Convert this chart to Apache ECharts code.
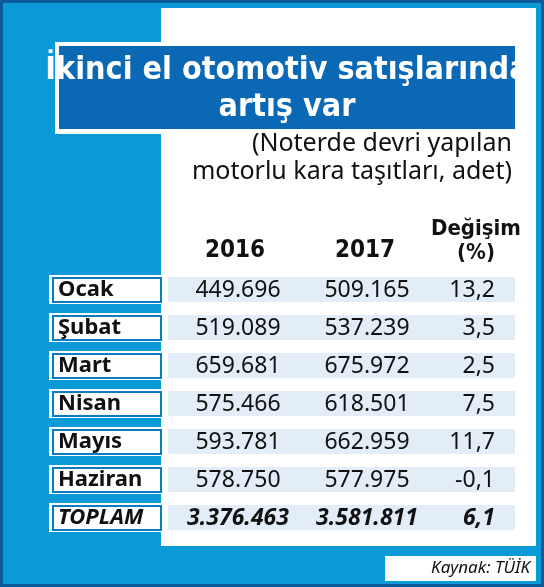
<!DOCTYPE html>
<html><head><meta charset="utf-8">
<script src="https://cdn.jsdelivr.net/npm/echarts@6/dist/echarts.min.js"></script>
<style>html,body{margin:0;padding:0;background:#fff}#c{width:544px;height:587px}</style>
</head><body><div id="c"></div>
<script>
const months = ['Ocak','Şubat','Mart','Nisan','Mayıs','Haziran','TOPLAM'];
const values2016 = ['449.696','519.089','659.681','575.466','593.781','578.750','3.376.463'];
const values2017 = ['509.165','537.239','675.972','618.501','662.959','577.975','3.581.811'];
const changes = ['13,2','3,5','2,5','7,5','11,7','-0,1','6,1'];
const headers = ['2016','2017','Değişim\n(%)'];
const NARROW='"Liberation Sans Narrow","DejaVu Sans Condensed",sans-serif';

const chart = echarts.init(document.getElementById('c'));
const rows = months.map((m,i)=>[i]);
chart.setOption({
  animation:false,
  grid:{left:0,right:0,top:270,height:266},
  xAxis:{type:'value',min:0,max:544,show:false},
  yAxis:{type:'category',inverse:true,data:months,show:false},
  graphic:[
    {type:'rect',z:-10,shape:{x:1.5,y:1.5,width:541,height:584},style:{fill:'#0a9ad8',stroke:'#0b5a9c',lineWidth:3}},
    {type:'rect',z:-9,shape:{x:161,y:8,width:375,height:538},style:{fill:'#ffffff'}},
    {type:'rect',z:-9,shape:{x:385,y:556,width:151,height:25},style:{fill:'#ffffff'}},
    {type:'text',z:5,style:{x:530,y:568,text:'Kaynak: TÜİK',fill:'#111',font:'italic 17px "Noto Sans"',align:'right',verticalAlign:'middle'}},
    {type:'rect',z:-8,shape:{x:55,y:42,width:461,height:92},style:{fill:'#ffffff'}},
    {type:'rect',z:-7,shape:{x:59,y:46,width:456,height:83},style:{fill:'#0a68b4'}},
    {type:'text',z:5,style:{x:287,y:89,text:'İkinci el otomotiv satışlarında\nartış var',fill:'#fff',font:'bold 32px '+NARROW,align:'center',verticalAlign:'middle',lineHeight:37}},
    {type:'text',z:5,style:{x:512,y:158,text:'(Noterde devri yapılan\nmotorlu kara taşıtları, adet)',fill:'#111',font:'25px "Noto Sans"',align:'right',verticalAlign:'middle',lineHeight:28}},
    {type:'text',z:5,style:{x:235,y:251,text:headers[0],fill:'#111',font:'bold 24px '+NARROW,align:'center',verticalAlign:'middle'}},
    {type:'text',z:5,style:{x:365,y:251,text:headers[1],fill:'#111',font:'bold 24px '+NARROW,align:'center',verticalAlign:'middle'}},
    {type:'text',z:5,style:{x:476,y:241,text:headers[2],fill:'#111',font:'bold 22px '+NARROW,align:'center',verticalAlign:'middle',lineHeight:24}}
  ],
  series:[{
    type:'custom',data:rows,
    renderItem:function(params,api){
      const i=api.value(0);
      const c=api.coord([0,i]); const cy=c[1];
      const x=v=>api.coord([v,i])[0];
      const bold=i===6; const it=i===6?'italic ':'';
      return {type:'group',children:[
        {type:'rect',shape:{x:x(49),y:cy-14,width:113,height:29},style:{fill:'#fff'}},
        {type:'rect',shape:{x:x(53),y:cy-11,width:108,height:24},style:{fill:'#fff',stroke:'#0a7cc4',lineWidth:2}},
        {type:'rect',shape:{x:x(168),y:cy-12,width:347,height:25},style:{fill:'#e2edf8'}},
        {type:'text',style:{x:x(58),y:cy+1,text:months[i],fill:'#111',font:(bold?'italic ':'')+'bold 22px "Noto Sans"',verticalAlign:'middle'}},
        {type:'text',style:{x:x(238),y:cy+1,text:values2016[i],fill:'#111',font:it+(bold?'bold ':'')+'23px "Noto Sans"',align:'center',verticalAlign:'middle'}},
        {type:'text',style:{x:x(367),y:cy+1,text:values2017[i],fill:'#111',font:it+(bold?'bold ':'')+'23px "Noto Sans"',align:'center',verticalAlign:'middle'}},
        {type:'text',style:{x:x(495),y:cy+1,text:changes[i],fill:'#111',font:it+(bold?'bold ':'')+'23px "Noto Sans"',align:'right',verticalAlign:'middle'}}
      ]};
    }
  }]
});
</script></body></html>
